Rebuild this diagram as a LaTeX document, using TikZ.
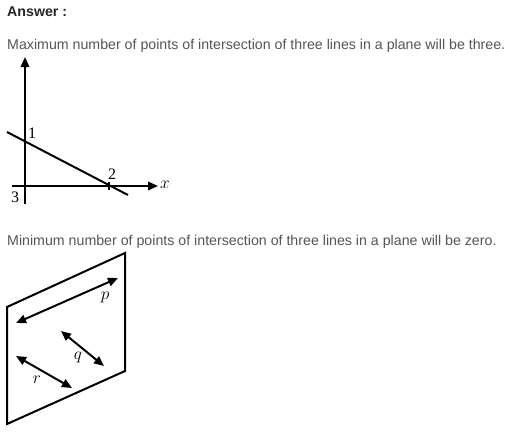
\documentclass[tikz,border=0pt]{standalone}
\usepackage{fontspec}
\setmainfont{Liberation Sans}
\newfontfamily\serifx{Liberation Serif}
\usetikzlibrary{arrows.meta}
\definecolor{txtgray}{HTML}{555555}
\begin{document}
\begin{tikzpicture}[x=1pt,y=-1pt,
  body/.style={anchor=west,inner sep=0pt,text=txtgray,font=\fontsize{14.2}{16}\selectfont},
  lbl/.style={inner sep=0pt,font=\serifx\fontsize{16}{18}\selectfont},
  ln/.style={line width=2pt},
  arr/.style={ln,-{Triangle[length=10pt,width=8.5pt]}},
  darr/.style={ln,{Triangle[length=10pt,width=8.5pt]}-{Triangle[length=10pt,width=8.5pt]}}]
\useasboundingbox (0,0) rectangle (518,434);
\node[body,font=\bfseries\fontsize{14.2}{16}\selectfont,text=black!85] (ans) at (7,12) {Answer :};
\node[body] (t1) at (7,46) {Maximum number of points of intersection of three lines in a plane will be three.};
\node[body] (t2) at (7,242) {Minimum number of points of intersection of three lines in a plane will be zero.};
% figure 1
\coordinate (vb) at (25,204);
\coordinate (vt) at (25,57);
\coordinate (hl) at (12,186);
\coordinate (hr) at (158,186);
\coordinate (sa) at (7,132);
\coordinate (sb) at (128,195);
\coordinate (p1) at (25,141);
\coordinate (p2) at (109,186);
\draw[arr] (vb) -- (vt);
\draw[arr] (hl) -- (hr);
\draw[ln] (sa) -- (sb);
\draw[line width=1.3pt] ([yshift=-3]p1) -- ([yshift=3]p1);
\draw[line width=1.3pt] ([yshift=-4]p2) -- ([yshift=4]p2);
\node[lbl] (l1) at (32,133) {1};
\node[lbl] (l2) at (112,174) {2};
\node[lbl] (l3) at (15,197) {3};
\node[lbl] (lx) at (165,185) {$x$};
% figure 2
\coordinate (c1) at (7,307);
\coordinate (c2) at (125,253);
\coordinate (c3) at (125,371);
\coordinate (c4) at (7,424);
\draw[ln,line join=miter] (c1) -- (c2) -- (c3) -- (c4) -- cycle;
\coordinate (pa) at (16,323);
\coordinate (pb) at (118,278);
\coordinate (qa) at (61,331);
\coordinate (qb) at (104,366);
\coordinate (ra) at (16,356);
\coordinate (rb) at (72,388);
\draw[darr] (pa) -- (pb);
\draw[darr] (qa) -- (qb);
\draw[darr] (ra) -- (rb);
\node[lbl] (lp) at (105,297) {$p$};
\node[lbl] (lq) at (78,357) {$q$};
\node[lbl] (lr) at (37,380) {$r$};
\end{tikzpicture}
\end{document}
